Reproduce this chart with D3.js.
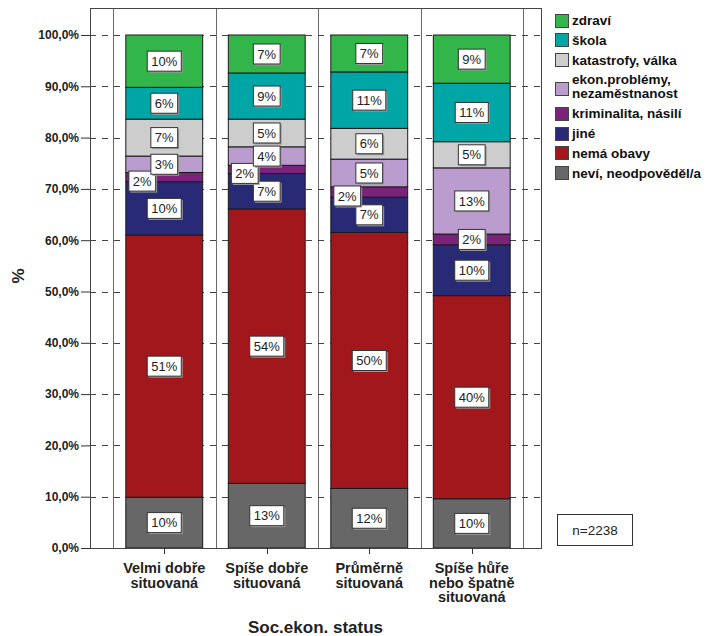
<!DOCTYPE html>
<html><head><meta charset="utf-8">
<script src="https://cdn.jsdelivr.net/npm/d3@7"></script>
<style>body{margin:0;background:#fff}svg{display:block}</style>
</head><body>
<svg id="c" width="707" height="636"></svg>
<script>
const categories = [["Velmi dobře","situovaná"],["Spíše dobře","situovaná"],["Průměrně","situovaná"],["Spíše hůře","nebo špatně","situovaná"]];
const seriesNames = ["neví, neodpověděl/a","nemá obavy","jiné","kriminalita, násilí","ekon.problémy, nezaměstnanost","katastrofy, válka","škola","zdraví"];
const seriesColors = ["#676767","#a1171b","#282a76","#7b237a","#bb9cce","#cdcdcd","#00a6a6","#33b649"];
// values per series, one per category (percent)
const neviVals   = [9.9, 12.6, 11.6, 9.6];
const nemaVals   = [51.1, 53.5, 49.9, 39.6];
const jineVals   = [10.4, 6.9, 6.9, 9.9];
const kriminVals = [1.8, 1.6, 2.0, 2.1];
const ekonVals   = [3.2, 3.6, 5.4, 12.9];
const katasVals  = [7.2, 5.4, 6.0, 5.1];
const skolaVals  = [6.2, 9.0, 11.0, 11.4];
const zdraviVals = [10.2, 7.4, 7.2, 9.4];
const seriesValues = [neviVals, nemaVals, jineVals, kriminVals, ekonVals, katasVals, skolaVals, zdraviVals];
const yTicks = [0,10,20,30,40,50,60,70,80,90,100];
const legendOrder = [7,6,5,4,3,2,1,0];
const legendLines = {4:["ekon.problémy,","nezaměstnanost"]};
const nText = "n=2238";

const svg = d3.select("#c");
const F = "'Liberation Sans', Arial, sans-serif";
const frame = {l:90, t:8, r:541, b:548};
const y = d3.scaleLinear().domain([0,100]).range([548,35]);
const x = d3.scaleBand().domain(d3.range(categories.length)).range([113,523]).paddingInner(0.25).paddingOuter(0.125);

// separators between categories
const sepX = d3.range(categories.length+1).map(i => Math.round(113 + i*x.step())+0.5);
svg.append("g").selectAll("line").data(sepX).join("line")
  .attr("x1",d=>d).attr("x2",d=>d).attr("y1",frame.t).attr("y2",frame.b)
  .attr("stroke","#6a6a6a").attr("stroke-width",1);

// dashed gridlines
svg.append("g").selectAll("line").data(yTicks.filter(d=>d>0)).join("line")
  .attr("x1",frame.l).attr("x2",frame.r).attr("y1",d=>Math.round(y(d))+0.5).attr("y2",d=>Math.round(y(d))+0.5)
  .attr("stroke","#444").attr("stroke-dasharray","6,6").attr("stroke-width",1);

// stacked bars
const stackData = categories.map((c,i)=>{const o={i}; seriesNames.forEach((s,k)=>o[k]=seriesValues[k][i]); return o;});
const stack = d3.stack().keys(d3.range(seriesNames.length))(stackData);
const gBars = svg.append("g");
stack.forEach((layer,k)=>{
  gBars.selectAll(null).data(layer).join("rect")
    .attr("x",d=>x(d.data.i)).attr("width",x.bandwidth())
    .attr("y",d=>y(d[1])).attr("height",d=>y(d[0])-y(d[1]))
    .attr("fill",seriesColors[k]).attr("stroke","#1a1a1a").attr("stroke-width",1);
});

// frame
svg.append("rect").attr("x",frame.l+0.5).attr("y",frame.t+0.5).attr("width",frame.r-frame.l).attr("height",frame.b-frame.t)
  .attr("fill","none").attr("stroke","#444").attr("stroke-width",1);

// y axis
const yAxis = d3.axisLeft(y).tickValues(yTicks).tickSize(9).tickPadding(2)
  .tickFormat(d=>d3.format(".1f")(d).replace(".",",")+"%");
const gy = svg.append("g").attr("transform",`translate(${frame.l},0)`).call(yAxis);
gy.select(".domain").remove();
gy.selectAll(".tick line").attr("stroke","#333");
gy.selectAll("text").attr("font-family",F).attr("font-weight","bold").attr("font-size","12px").attr("fill","#222");

// x axis ticks + labels
const xc = i => x(i)+x.bandwidth()/2;
svg.append("g").selectAll("line").data(d3.range(categories.length)).join("line")
  .attr("x1",d=>Math.round(xc(d))+0.5).attr("x2",d=>Math.round(xc(d))+0.5).attr("y1",frame.b).attr("y2",frame.b+6).attr("stroke","#333");
const gx = svg.append("g");
categories.forEach((lines,i)=>{
  const t = gx.append("text").attr("x",xc(i)).attr("y",573).attr("text-anchor","middle")
    .attr("font-family",F).attr("font-weight","bold").attr("font-size","14.5px").attr("fill","#222");
  lines.forEach((ln,j)=>t.append("tspan").attr("x",xc(i)).attr("dy",j?14.5:0).text(ln));
});

// axis titles
svg.append("text").attr("x",(frame.l+frame.r)/2).attr("y",633).attr("text-anchor","middle")
  .attr("font-family",F).attr("font-weight","bold").attr("font-size","17px").attr("fill","#222").text("Soc.ekon. status");
svg.append("text").attr("transform","translate(24,276) rotate(-90)").attr("text-anchor","middle")
  .attr("font-family",F).attr("font-weight","bold").attr("font-size","17px").attr("fill","#222").text("%");

// value labels
const boxH = 20;
const gLab = svg.append("g");
categories.forEach((c,i)=>{
  const labs = stack.map((layer,k)=>({k, v:seriesValues[k][i], cx:xc(i), cy:y((layer[i][0]+layer[i][1])/2)}));
  for(let k=1;k<labs.length;k++){
    const a=labs[k-1], b=labs[k];
    if(Math.abs(a.cy-b.cy)<boxH){
      const s = a.v<=b.v ? a : b;
      s.cx -= 22; s.cy += 4;
    }
  }
  labs.forEach(l=>{
    const txt = Math.round(l.v)+"%";
    const g = gLab.append("g").attr("transform",`translate(${l.cx},${l.cy})`);
    const t = g.append("text").attr("text-anchor","middle").attr("dy","0.36em")
      .attr("font-family",F).attr("font-size","13px").attr("fill","#222").text(txt);
    const w = t.node().getComputedTextLength()+8;
    g.insert("rect","text").attr("x",-w/2+1.5).attr("y",-boxH/2+1.5).attr("width",w).attr("height",boxH).attr("fill","#999");
    g.insert("rect","text").attr("x",-w/2).attr("y",-boxH/2).attr("width",w).attr("height",boxH)
      .attr("fill","#fff").attr("stroke","#333").attr("stroke-width",1);
  });
});

// legend
const gL = svg.append("g");
let base = 25;
legendOrder.forEach(k=>{
  const lines = legendLines[k] || [seriesNames[k]];
  const firstBase = base, lastBase = base + (lines.length-1)*14;
  const cy = (firstBase + lastBase)/2 - 4.5 + (lines.length>1?2:0);
  gL.append("rect").attr("x",555.5).attr("y",Math.round(cy-7)+0.5).attr("width",13).attr("height",13)
    .attr("fill",seriesColors[k]).attr("stroke","#444").attr("stroke-width",1);
  const t = gL.append("text").attr("x",572).attr("y",firstBase)
    .attr("font-family",F).attr("font-weight","bold").attr("font-size","13.5px").attr("fill","#111");
  lines.forEach((ln,j)=>t.append("tspan").attr("x",572).attr("dy",j?14:0).text(ln));
  base = lastBase + 19.8;
});

// n box
const gn = svg.append("g");
gn.append("rect").attr("x",557.5).attr("y",514.5).attr("width",75).attr("height",31).attr("fill","#fff").attr("stroke","#333");
gn.append("text").attr("x",595).attr("y",535).attr("text-anchor","middle").attr("font-family",F).attr("font-size","13.5px").attr("fill","#222").text(nText);
</script>
</body></html>
